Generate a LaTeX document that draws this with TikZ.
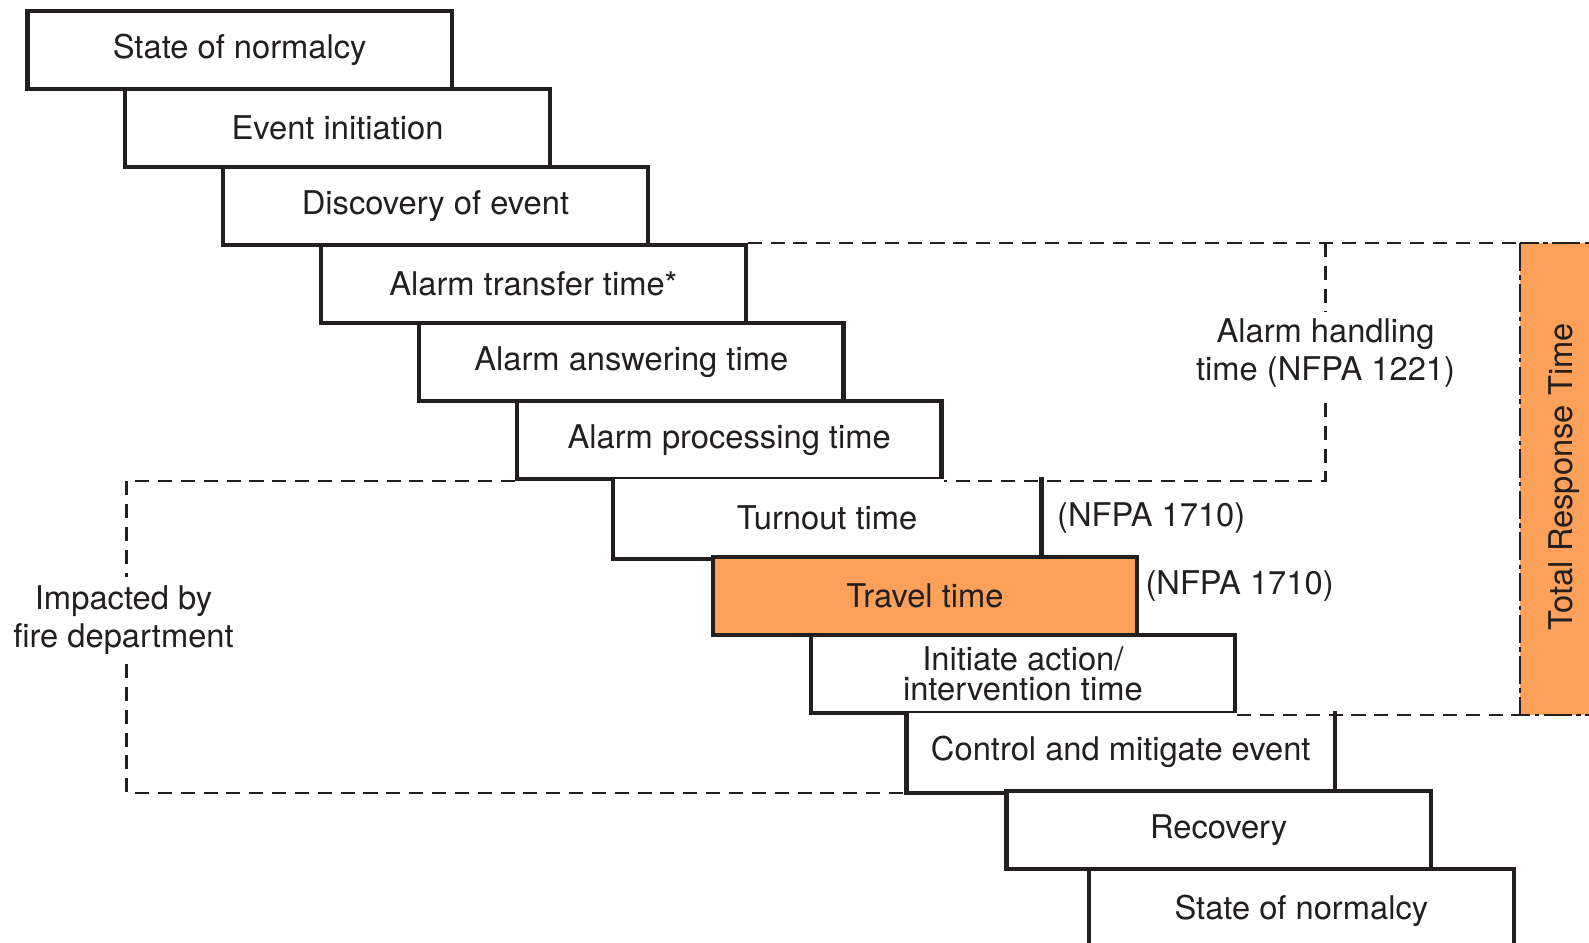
\documentclass[tikz,border=0pt]{standalone}
\usepackage{fontspec}
\setmainfont{TeX Gyre Heros}
\usepackage{xcolor}
\definecolor{resp_orange}{RGB}{253, 160, 90}
\definecolor{resp_ink}{RGB}{35, 31, 32}
\usepackage{tikz}
\usetikzlibrary{positioning, calc}

\tikzset{
  stagebox/.style={draw=resp_ink, line width=2.4pt, fill=white, anchor=north west,
    minimum width=8.49cm, minimum height=1.559cm, inner sep=0pt,
    font=\fontsize{18.6}{17.6}\selectfont, align=center, text=resp_ink},
  openbox/.style={stagebox, draw=none},
  boxedge/.style={draw=resp_ink, line width=2.4pt},
  boundline/.style={draw=resp_ink, line width=1.5pt, dash pattern=on 8pt off 5pt},
  totalbar/.style={fill=resp_orange, draw=resp_ink, line width=1.5pt,
    dash pattern=on 16pt off 2.5pt on 2.5pt off 2.5pt},
  sidenote/.style={font=\fontsize{18.6}{21.3}\selectfont, align=center, text=resp_ink}
}

\begin{document}
\begin{tikzpicture}
  \useasboundingbox (0,0) rectangle (31.78,-18.84);

  % x positions of the dashed frames
  \coordinate (fire_x)   at (2.534, 0);
  \coordinate (handle_x) at (26.51, 0);
  \coordinate (total_x)  at (30.40, 0);
  \coordinate (page_r)   at (32.30, 0);

  % stages, one row each
  \node[stagebox] (norm_a)    at (0.506,  -0.182)  {State of normalcy};
  \node[stagebox] (init)      at (2.464,  -1.741)  {Event initiation};
  \node[stagebox] (discover)  at (4.422,  -3.300)  {Discovery of event};
  \node[stagebox] (transfer)  at (6.380,  -4.859)  {Alarm transfer time*};
  \node[stagebox] (answer)    at (8.338,  -6.418)  {Alarm answering time};
  \node[stagebox] (process)   at (10.296, -7.977)  {Alarm processing time};
  \node[openbox]  (turnout)   at (12.254, -9.536)  {Turnout time};
  \draw[boxedge] (turnout.north east) |- (turnout.south west) -- (turnout.north west);
  \node[stagebox, fill=resp_orange] (travel) at (14.212, -11.095) {Travel time};
  \node[stagebox] (intervene) at (16.170, -12.654) {Initiate action/\\intervention time};
  \node[openbox]  (control)   at (18.128, -14.213) {Control and mitigate event};
  \draw[boxedge] (control.north east) |- (control.south west) -- (control.north west);
  \node[stagebox] (recover)   at (20.086, -15.772) {Recovery};
  \node[stagebox, minimum height=2.2cm, text depth=0.64cm] (norm_b) at (21.740, -17.331) {State of normalcy};

  % total response time
  \draw[totalbar] (total_x |- transfer.north) rectangle (page_r |- intervene.south);
  \node[sidenote, rotate=90] (total_lbl) at (31.28, -9.536) {Total Response Time};

  % dashed frames
  \draw[boundline] (transfer.north east) -- (transfer.north east -| total_x);
  \draw[boundline] (transfer.north east -| handle_x) -- (process.south east -| handle_x)
    -- (process.south east);
  \draw[boundline] (intervene.south east) -- (intervene.south east -| total_x);
  \draw[boundline] (process.south west) -- (process.south west -| fire_x)
    -- (control.south west -| fire_x) -- (control.south west);

  \node[sidenote, fill=white, inner sep=4pt] (handle_lbl) at (26.51, -7.06)
    {Alarm handling\\time (NFPA 1221)};
  \node[sidenote, fill=white, inner sep=5pt] (fire_lbl) at (2.47, -12.4)
    {Impacted by\\fire department};
  \node[sidenote, right=0.19cm of turnout] (turnout_std) {(NFPA 1710)};
  \node[sidenote, right=0cm of travel, yshift=0.19cm] (travel_std) {(NFPA 1710)};
\end{tikzpicture}
\end{document}
